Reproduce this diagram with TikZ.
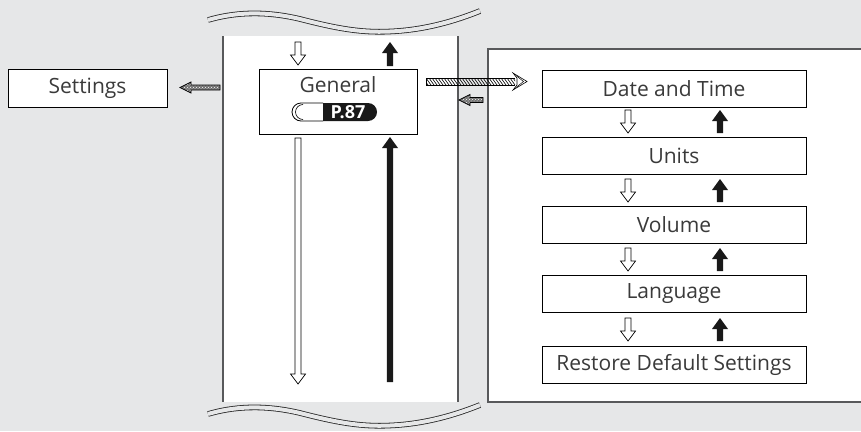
\documentclass[tikz,border=0pt]{standalone}
\usepackage{fontspec}
\setmainfont{Open Sans}
\usetikzlibrary{patterns}
\definecolor{bg}{HTML}{E6E7E8}
\definecolor{frame}{HTML}{58595B}
\definecolor{txt}{HTML}{3A3A3A}
\begin{document}
\begin{tikzpicture}[x=1pt,y=-1pt,
  menubox/.style={draw=black,line width=0.9pt,fill=white,minimum width=264pt,minimum height=37pt,inner sep=0pt,font=\fontsize{21}{23}\selectfont,text=txt},
  lbl/.style={inner sep=0pt,font=\fontsize{21}{23}\selectfont,text=txt},
  panel/.style={draw=frame,line width=1.2pt},
  wave/.style={draw=black!85,line width=0.8pt,double=bg,double distance=4pt},
  pics/hollowdown/.style={code={\draw[fill=white,line width=0.7pt,line join=miter] (-3,0) -- (3,0) -- (3,#1-10) -- (7.5,#1-10) -- (0,#1) -- (-7.5,#1-10) -- (-3,#1-10) -- cycle;}},
  pics/solidup/.style={code={\fill[black!90] (-3.2,#1) -- (3.2,#1) -- (3.2,11) -- (8,11) -- (0,0) -- (-8,11) -- (-3.2,11) -- cycle;}},
  pics/dotleft/.style={code={\path[fill=black!55] (0,0) -- (11,-5.5) -- (11,-2.5) -- (#1,-2.5) -- (#1,2.5) -- (11,2.5) -- (11,5.5) -- cycle;
     \path[pattern=crosshatch dots,pattern color=white] (0,0) -- (11,-5.5) -- (11,-2.5) -- (#1,-2.5) -- (#1,2.5) -- (11,2.5) -- (11,5.5) -- cycle;
     \draw[line width=0.7pt,line join=miter] (0,0) -- (11,-5.5) -- (11,-2.5) -- (#1,-2.5) -- (#1,2.5) -- (11,2.5) -- (11,5.5) -- cycle;}}
]
\useasboundingbox (0,0) rectangle (861,431);
\fill[bg] (0,0) rectangle (861,431);

% central panel
\fill[white] (223,36) rectangle (458,402);
\draw[panel] (223,36) -- (223,402);
\draw[panel] (458,36) -- (458,402);

% waves
\draw[wave] (208,20) .. controls (232,13) and (262,10) .. (300,19) .. controls (335,28) and (360,33) .. (390,31.5) .. controls (425,30) and (455,21) .. (480,11);
\begin{scope}[shift={(0,394)}]
\draw[wave] (208,20) .. controls (232,13) and (262,10) .. (300,19) .. controls (335,28) and (360,33) .. (390,31.5) .. controls (425,30) and (455,21) .. (480,11);
\end{scope}

% right panel
\fill[white] (488,49) rectangle (862,402);
\draw[panel] (863,49) -- (488,49) -- (488,402) -- (863,402);

% Settings
\node[menubox,minimum width=159pt,minimum height=38pt] (settings) at (87.5,88) {Settings};
\pic at (180,87.5) {dotleft=40};

% General
\node[draw=black,line width=0.9pt,fill=white,minimum width=158pt,minimum height=65pt,inner sep=0pt] (general) at (338,101.5) {};
\node[lbl] (gentitle) at (338,85) {General};
\begin{scope}
  \clip (288,98) rectangle (323,126);
  \draw[fill=white,line width=0.8pt,rounded corners=9pt] (292,103) rectangle (377,121);
\end{scope}
\begin{scope}
  \clip (323,98) rectangle (382,126);
  \fill[black!90,rounded corners=9pt] (292,103) rectangle (377,121);
\end{scope}
\draw[line width=0.6pt] (303,104.5) arc[start angle=-90,end angle=-270,radius=7.5];
\node[inner sep=0pt,font=\fontsize{18}{19}\selectfont\bfseries,text=white] (pref) at (348,112.5) {P.87};

% arrows in central panel
\pic at (298,42) {hollowdown=23};
\pic at (390,42) {solidup=24};
\pic at (298,138) {hollowdown=246};
\pic at (390,137) {solidup=245};

% arrows between panels
\begin{scope}
  \clip (426,78) rectangle (515,85);
  \foreach \i in {420,423,...,520} \draw[line width=0.6pt] (\i,78) -- (\i+5,85);
\end{scope}
\draw[line width=0.6pt] (515,78) -- (426,78) -- (426,85) -- (515,85);
\draw[fill=white,line width=0.6pt,line join=miter] (513,73) -- (527,81.5) -- (513,90) -- (517,85) -- (517,78) -- cycle;
\draw[line width=0.5pt] (516,75.5) -- (523.5,81.5) -- (516,87.5);
\pic at (459,100) {dotleft=24};

% right menu
\node[menubox] (date) at (674,88.5) {Date and Time};
\node[menubox] (units) at (674,156) {Units};
\node[menubox] (volume) at (674,225) {Volume};
\node[menubox] (language) at (674,293.5) {Language};
\node[menubox] (restore) at (674,364.5) {Restore Default Settings};

\foreach \y in {110,179,248,318} {
  \pic at (628,\y) {hollowdown=23};
  \pic at (720,\y) {solidup=23};
}
\end{tikzpicture}
\end{document}
